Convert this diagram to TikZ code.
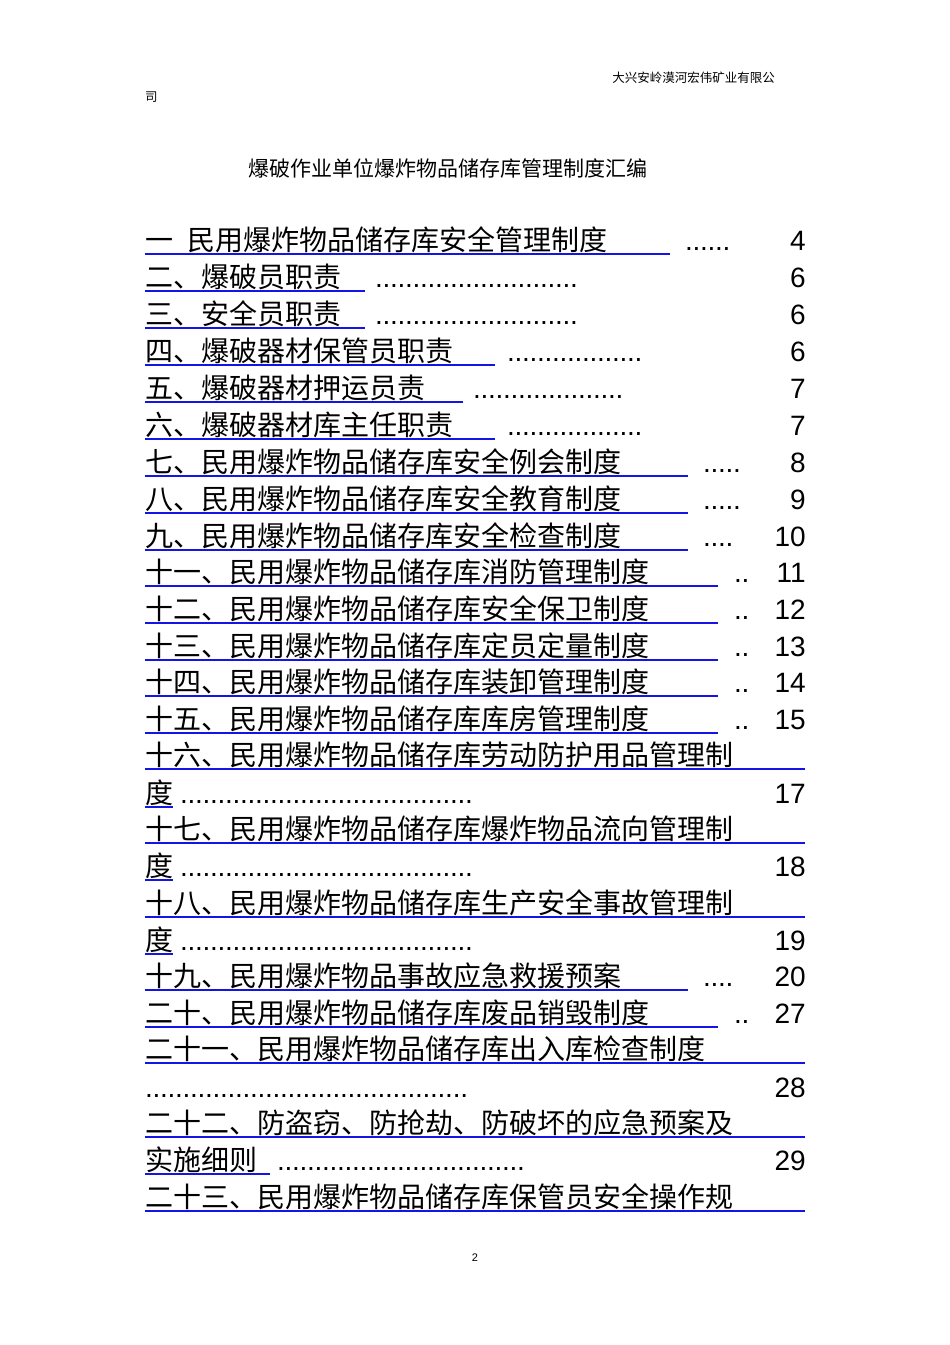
\documentclass[tikz,border=0pt]{standalone}
\usepackage{fontspec}
\setmainfont{Liberation Sans}
\newfontfamily\cjk{Noto Sans CJK SC}
\definecolor{ulblue}{RGB}{20,20,230}
\newcommand{\tocfont}{\fontsize{28}{30}\selectfont}
\newcommand{\dfill}[3]{\node[anchor=base west,inner sep=0pt,font=\tocfont] (d#3) at (#1,#3) {\hbox to #2pt{\leaders\hbox to 7.5pt{\hss.\hss}\hfill}};}
\begin{document}
\begin{tikzpicture}[x=1pt,y=-1pt,
  toc/.style={anchor=base west,inner sep=0pt,font=\cjk\tocfont},
  num/.style={anchor=base east,inner sep=0pt,font=\tocfont},
  ul/.style={ulblue,line width=1.8pt}]
\useasboundingbox[fill=white] (0,0) rectangle (950,1345);
\node[anchor=east,font=\cjk\fontsize{12.5}{14}\selectfont,inner sep=0pt] (hdr) at (775,78) {大兴安岭漠河宏伟矿业有限公};
\node[anchor=west,font=\cjk\fontsize{12.5}{14}\selectfont,inner sep=0pt] (hdr2) at (145,97) {司};
\node[font=\cjk\fontsize{21}{24}\selectfont,inner sep=0pt] (title) at (448,168) {爆破作业单位爆炸物品储存库管理制度汇编};
% rows: \r{y}{text}{ul end}
\newcommand{\rw}[3]{\node[toc] (t#1) at (145,#1+10) {#2}; \draw[ul] (145,#1+14) -- (#3,#1+14);}
\newcommand{\nm}[2]{\node[num] (n#1) at (806,#1+10) {#2};}
\rw{240}{一\hspace{0.5em}民用爆炸物品储存库安全管理制度}{670} \dfill{685}{45}{250} \nm{240}{4}
\rw{277}{二、爆破员职责}{365} \dfill{375}{205}{287} \nm{277}{6}
\rw{314}{三、安全员职责}{365} \dfill{375}{205}{324} \nm{314}{6}
\rw{351}{四、爆破器材保管员职责}{495} \dfill{507}{138}{361} \nm{351}{6}
\rw{388}{五、爆破器材押运员责}{463} \dfill{473}{155}{398} \nm{388}{7}
\rw{425}{六、爆破器材库主任职责}{495} \dfill{507}{138}{435} \nm{425}{7}
\rw{462}{七、民用爆炸物品储存库安全例会制度}{688} \dfill{703}{38}{472} \nm{462}{8}
\rw{499}{八、民用爆炸物品储存库安全教育制度}{688} \dfill{703}{38}{509} \nm{499}{9}
\rw{536}{九、民用爆炸物品储存库安全检查制度}{688} \dfill{703}{30}{546} \nm{536}{10}
\rw{572}{十一、民用爆炸物品储存库消防管理制度}{718} \dfill{734}{15}{582} \nm{572}{11}
\rw{609}{十二、民用爆炸物品储存库安全保卫制度}{718} \dfill{734}{15}{619} \nm{609}{12}
\rw{646}{十三、民用爆炸物品储存库定员定量制度}{718} \dfill{734}{15}{656} \nm{646}{13}
\rw{682}{十四、民用爆炸物品储存库装卸管理制度}{718} \dfill{734}{15}{692} \nm{682}{14}
\rw{719}{十五、民用爆炸物品储存库库房管理制度}{718} \dfill{734}{15}{729} \nm{719}{15}
\rw{755}{十六、民用爆炸物品储存库劳动防护用品管理制}{805}
\rw{793}{度}{173} \dfill{180}{298}{803} \nm{793}{17}
\rw{829}{十七、民用爆炸物品储存库爆炸物品流向管理制}{805}
\rw{866}{度}{173} \dfill{180}{298}{876} \nm{866}{18}
\rw{903}{十八、民用爆炸物品储存库生产安全事故管理制}{805}
\rw{940}{度}{173} \dfill{180}{298}{950} \nm{940}{19}
\rw{976}{十九、民用爆炸物品事故应急救援预案}{688} \dfill{703}{30}{986} \nm{976}{20}
\rw{1013}{二十、民用爆炸物品储存库废品销毁制度}{718} \dfill{734}{15}{1023} \nm{1013}{27}
\rw{1049}{二十一、民用爆炸物品储存库出入库检查制度}{805}
\dfill{145}{323}{1097} \nm{1087}{28}
\rw{1123}{二十二、防盗窃、防抢劫、防破坏的应急预案及}{805}
\rw{1160}{实施细则}{270} \dfill{277}{248}{1170} \nm{1160}{29}
\rw{1197}{二十三、民用爆炸物品储存库保管员安全操作规}{805}
\node[font=\fontsize{11}{12}\selectfont,inner sep=0pt] (pg) at (475,1258) {2};
\end{tikzpicture}
\end{document}
